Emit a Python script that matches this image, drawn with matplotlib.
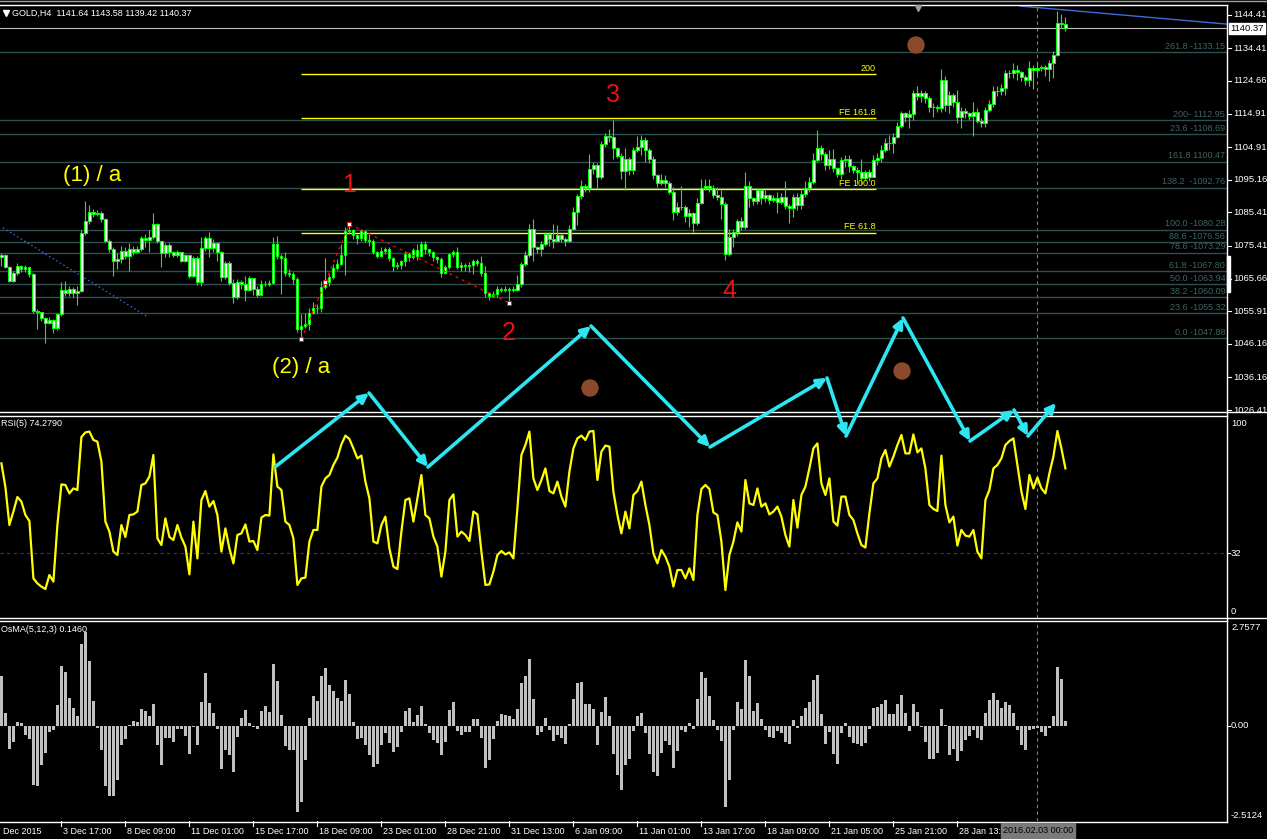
import numpy as np
import matplotlib
matplotlib.use("Agg")
import matplotlib.pyplot as plt
import matplotlib.transforms as mtransforms
from matplotlib.patches import Circle, FancyArrowPatch, Rectangle

plt.rcParams['font.family'] = ['Liberation Sans', 'DejaVu Sans']

# ---------------- data (GOLD, H4) ----------------
FIRST_OPEN = 1072.0
CLOSE = [
    1072.6, 1069.2, 1065.0, 1067.2, 1069.4, 1068.5, 1069.0, 1067.0, 1056.1, 1055.6,
    1053.8, 1052.4, 1053.3, 1050.8, 1055.0, 1062.2, 1061.4, 1062.5, 1061.2, 1062.0,
    1079.2, 1082.8, 1085.6, 1084.9, 1085.1, 1083.4, 1077.0, 1074.6, 1071.0, 1071.6,
    1074.0, 1072.4, 1074.4, 1073.6, 1074.6, 1077.7, 1077.2, 1078.2, 1081.9, 1076.9,
    1073.4, 1075.7, 1073.6, 1072.6, 1073.5, 1071.0, 1072.7, 1066.4, 1071.8, 1064.5,
    1074.7, 1077.7, 1074.7, 1076.4, 1073.7, 1066.2, 1070.2, 1064.4, 1060.2, 1064.5,
    1064.0, 1062.2, 1065.7, 1062.6, 1060.8, 1064.1, 1064.0, 1064.2, 1075.9, 1072.4,
    1071.9, 1067.4, 1067.1, 1065.4, 1050.5, 1051.5, 1052.0, 1055.3, 1056.8, 1057.0,
    1063.0, 1064.7, 1066.0, 1068.7, 1070.0, 1072.6, 1079.7, 1080.2, 1078.6, 1077.9,
    1079.7, 1077.2, 1077.0, 1073.7, 1072.5, 1074.0, 1074.4, 1071.7, 1069.5, 1069.7,
    1070.8, 1073.0, 1072.0, 1074.2, 1072.4, 1076.0, 1074.5, 1073.5, 1072.0, 1071.5,
    1067.2, 1069.0, 1073.0, 1073.5, 1069.2, 1069.8, 1069.3, 1069.6, 1071.0, 1070.3,
    1067.2, 1061.2, 1060.5, 1061.0, 1062.5, 1062.2, 1062.4, 1062.3, 1062.3, 1064.1,
    1069.9, 1072.7, 1080.4, 1075.2, 1074.6, 1076.0, 1079.0, 1077.5, 1077.0, 1078.6,
    1077.5, 1077.0, 1080.4, 1085.4, 1090.3, 1093.3, 1092.7, 1098.3, 1099.6, 1095.9,
    1105.9, 1108.3, 1108.0, 1104.6, 1102.1, 1097.9, 1101.3, 1098.0, 1104.1, 1105.0,
    1107.0, 1103.9, 1101.4, 1096.6, 1094.1, 1095.2, 1094.3, 1091.6, 1085.4, 1087.1,
    1087.0, 1084.4, 1085.2, 1082.2, 1088.2, 1092.6, 1093.3, 1092.7, 1090.6, 1090.1,
    1088.0, 1073.0, 1078.0, 1079.6, 1082.9, 1081.0, 1093.3, 1089.6, 1088.7, 1092.0,
    1089.6, 1090.5, 1089.0, 1089.8, 1088.5, 1090.0, 1087.4, 1086.8, 1090.1, 1087.5,
    1090.9, 1092.6, 1094.6, 1101.1, 1104.6, 1102.8, 1099.5, 1101.3, 1098.8, 1097.0,
    1101.0, 1101.3, 1099.3, 1098.0, 1097.5, 1095.6, 1097.5, 1096.0, 1101.0, 1101.5,
    1104.0, 1106.0, 1106.0, 1108.0, 1111.2, 1115.0, 1114.0, 1114.8, 1121.0, 1120.0,
    1121.0, 1119.6, 1117.0, 1116.8, 1116.6, 1125.0, 1117.5, 1120.5, 1118.4, 1113.8,
    1115.8, 1115.0, 1114.3, 1115.4, 1112.8, 1112.0, 1116.0, 1117.8, 1121.5, 1121.5,
    1122.6, 1127.0, 1127.0, 1128.0, 1127.3, 1125.8, 1125.0, 1128.5, 1128.0, 1128.5,
    1128.7, 1128.2, 1130.0, 1132.5, 1141.8, 1141.64, 1140.37,
]
HIGH = [
    1073.2, 1073.0, 1069.5, 1068.0, 1070.2, 1069.6, 1069.8, 1068.8, 1067.2, 1056.5,
    1055.8, 1054.3, 1054.2, 1053.5, 1055.5, 1064.7, 1065.0, 1063.5, 1063.0, 1063.5,
    1080.0, 1088.7, 1087.5, 1086.5, 1086.0, 1085.8, 1083.8, 1077.5, 1075.0, 1073.2,
    1075.3, 1075.0, 1076.2, 1075.5, 1075.3, 1078.4, 1079.0, 1080.2, 1085.3, 1082.2,
    1076.7, 1076.2, 1076.2, 1073.8, 1074.3, 1073.6, 1073.0, 1072.8, 1072.5, 1072.3,
    1078.0, 1078.5, 1079.5, 1077.5, 1076.5, 1074.0, 1071.0, 1071.0, 1065.5, 1065.5,
    1065.2, 1066.5, 1066.5, 1064.5, 1063.3, 1065.3, 1065.0, 1065.2, 1078.0, 1078.3,
    1073.0, 1073.5, 1068.5, 1067.5, 1066.2, 1055.0, 1055.5, 1056.8, 1058.6, 1058.0,
    1065.0, 1071.7, 1067.0, 1070.0, 1071.5, 1076.0, 1081.0, 1082.2, 1080.5, 1079.0,
    1080.5, 1080.0, 1079.0, 1077.5, 1074.0, 1075.0, 1075.0, 1075.0, 1072.0, 1070.5,
    1071.3, 1073.8, 1073.5, 1074.8, 1076.0, 1076.8, 1076.8, 1074.5, 1073.9, 1072.5,
    1072.0, 1069.8, 1073.3, 1074.3, 1075.0, 1070.5, 1070.3, 1070.5, 1071.6, 1071.5,
    1072.3, 1069.3, 1061.5, 1062.0, 1063.5, 1063.0, 1063.5, 1063.2, 1063.5, 1066.6,
    1070.5, 1074.0, 1081.9, 1083.3, 1075.5, 1076.8, 1079.5, 1079.6, 1082.0, 1081.5,
    1079.0, 1078.0, 1081.5, 1087.0, 1091.0, 1095.0, 1094.0, 1102.8, 1100.5, 1100.0,
    1106.8, 1109.2, 1110.2, 1113.0, 1105.0, 1103.0, 1104.5, 1101.8, 1105.0, 1108.3,
    1108.5, 1108.0, 1104.5, 1102.2, 1097.0, 1097.0, 1096.5, 1094.8, 1093.0, 1088.5,
    1093.2, 1087.7, 1086.5, 1085.5, 1089.8, 1095.5, 1095.5, 1095.5, 1093.5, 1093.0,
    1092.0, 1088.5, 1080.5, 1080.5, 1083.5, 1084.0, 1097.5, 1094.8, 1090.0, 1092.5,
    1092.5, 1092.0, 1091.0, 1090.5, 1091.5, 1091.2, 1094.8, 1088.0, 1091.0, 1091.3,
    1092.0, 1094.8, 1096.0, 1103.0, 1110.0, 1105.5, 1103.5, 1104.0, 1104.2, 1099.0,
    1101.8, 1102.5, 1102.5, 1099.5, 1099.0, 1101.3, 1098.0, 1098.5, 1102.5, 1103.0,
    1105.5, 1107.5, 1108.5, 1109.0, 1112.5, 1115.8, 1115.5, 1116.0, 1122.0, 1123.0,
    1122.0, 1121.5, 1120.0, 1118.0, 1117.5, 1128.2, 1126.0, 1121.5, 1121.0, 1122.0,
    1117.0, 1116.5, 1115.5, 1118.5, 1116.5, 1113.5, 1117.0, 1119.0, 1123.0, 1123.0,
    1123.7, 1127.8, 1128.0, 1130.0, 1129.5, 1127.5, 1126.5, 1130.5, 1129.5, 1130.0,
    1129.5, 1129.5, 1131.0, 1133.5, 1145.5, 1144.5, 1143.58,
]
LOW = [
    1069.5, 1068.8, 1064.5, 1064.5, 1066.8, 1067.5, 1067.5, 1066.0, 1055.5, 1050.5,
    1053.0, 1046.3, 1052.0, 1049.5, 1050.2, 1054.5, 1060.5, 1060.5, 1060.0, 1057.8,
    1061.5, 1078.8, 1082.0, 1084.0, 1084.2, 1082.5, 1076.5, 1073.6, 1066.3, 1068.5,
    1070.2, 1071.5, 1068.0, 1072.6, 1073.2, 1074.0, 1075.0, 1073.6, 1077.5, 1076.2,
    1069.1, 1072.0, 1072.2, 1072.0, 1072.0, 1070.5, 1070.5, 1065.8, 1066.0, 1063.8,
    1063.5, 1074.0, 1072.0, 1073.5, 1071.0, 1065.0, 1065.5, 1063.7, 1058.5, 1059.5,
    1062.5, 1059.0, 1061.8, 1060.8, 1060.2, 1063.2, 1063.5, 1063.5, 1063.9, 1071.6,
    1061.0, 1066.5, 1066.0, 1064.0, 1049.6, 1047.5, 1051.0, 1050.2, 1055.0, 1055.5,
    1055.8, 1062.5, 1063.5, 1065.5, 1068.3, 1069.8, 1066.8, 1079.0, 1077.5, 1076.0,
    1077.0, 1076.5, 1075.5, 1073.0, 1071.8, 1072.2, 1073.0, 1071.0, 1068.0, 1068.5,
    1068.5, 1069.3, 1071.0, 1071.5, 1071.3, 1073.5, 1073.0, 1072.5, 1070.8, 1070.2,
    1066.2, 1067.0, 1068.5, 1072.0, 1068.5, 1067.8, 1067.8, 1067.5, 1067.0, 1069.5,
    1066.5, 1060.0, 1059.2, 1060.2, 1060.0, 1061.5, 1061.5, 1058.3, 1061.5, 1062.0,
    1063.0, 1069.5, 1072.0, 1070.8, 1073.3, 1072.5, 1075.5, 1075.5, 1074.8, 1076.5,
    1076.5, 1075.5, 1076.5, 1080.0, 1081.6, 1089.5, 1091.5, 1091.5, 1097.0, 1092.3,
    1095.5, 1105.0, 1106.5, 1101.2, 1101.5, 1095.5, 1092.0, 1096.5, 1097.0, 1103.5,
    1102.5, 1100.5, 1100.0, 1095.5, 1093.0, 1093.5, 1093.0, 1091.0, 1083.2, 1084.5,
    1086.2, 1082.5, 1081.0, 1079.5, 1081.5, 1088.0, 1092.0, 1091.5, 1089.8, 1089.0,
    1083.5, 1071.2, 1072.5, 1075.0, 1078.5, 1080.2, 1080.5, 1087.0, 1087.5, 1088.0,
    1088.0, 1088.5, 1088.0, 1088.5, 1085.3, 1088.0, 1086.5, 1082.3, 1084.0, 1086.0,
    1086.5, 1090.0, 1091.5, 1094.0, 1100.5, 1101.0, 1098.0, 1098.5, 1097.5, 1096.0,
    1095.5, 1099.0, 1097.5, 1097.2, 1094.0, 1093.5, 1095.0, 1094.8, 1097.0, 1099.5,
    1100.5, 1103.5, 1104.0, 1103.0, 1107.5, 1110.5, 1112.5, 1110.5, 1113.0, 1119.0,
    1118.5, 1118.0, 1115.5, 1114.0, 1115.5, 1115.5, 1115.8, 1115.0, 1117.0, 1112.0,
    1110.5, 1113.5, 1113.0, 1108.3, 1112.0, 1111.0, 1111.0, 1115.5, 1117.0, 1120.0,
    1120.5, 1120.5, 1125.5, 1125.5, 1125.0, 1124.5, 1123.5, 1123.0, 1122.2, 1126.5,
    1127.5, 1126.0, 1124.5, 1125.5, 1132.0, 1140.5, 1139.42,
]
RSI = [
    76.8, 65, 46, 52.7, 60, 57.7, 51, 48, 19.3, 16.8,
    15.2, 14, 21, 17.7, 46, 66.3, 66, 61.8, 64.3, 63.5,
    90, 92.3, 92.7, 88.5, 87.7, 77.7, 47.7, 42.7, 32.7, 31,
    46, 40, 51, 51.3, 52.7, 66, 66.8, 70.2, 81, 39.3,
    36, 49.3, 40, 38.5, 46, 39.7, 35.2, 21.3, 47.7, 29.3,
    58.5, 63, 55.2, 58, 51, 32.7, 44.3, 34.3, 26.8, 41,
    41.8, 46.3, 37.7, 38, 33.5, 49.7, 51, 50.7, 81.3, 65.2,
    63.5, 47.7, 46, 39.3, 16, 19.3, 19.7, 37.7, 43.5, 43.5,
    65.2, 69.3, 71, 76, 79.7, 86.3, 90.7, 89, 84.3, 79.3,
    80.7, 67.7, 59.3, 37.7, 36.8, 46, 50.2, 34.3, 25.2, 24,
    42.7, 58.5, 59.3, 47.7, 59.3, 71, 51, 49.3, 40.2, 35.2,
    20.2, 32.7, 58.5, 61.3, 40.2, 42.7, 41, 38, 52.7, 51.3,
    32.7, 16, 16.3, 22.7, 31, 33, 31.3, 32.3, 29.3, 54.3,
    81, 86, 92.7, 69.3, 63.5,
    68.5, 74.3, 63, 61.8, 67.7, 60.2, 55.2, 72.7, 84.3, 89.3,
    90.7, 88.5, 92.7, 93, 68.5, 82.7, 85.7, 85.2, 62.7, 51,
    41.8, 52.7, 44.3, 61, 63, 67.7, 56, 46, 31.8, 26.8,
    33.5, 30.2, 25.2, 15.2, 23.5, 23.5, 19.3, 24.3, 18.5, 51,
    64, 66, 64, 52.3, 51, 37.7, 13.5, 31, 37.7, 47.3,
    42.7, 68.5, 56.8, 56, 64.3, 55.2, 56.8, 51.3, 52.7, 55.2,
    50.2, 41, 35.2, 58.5, 44.7, 61, 65.2, 74.3, 84.3, 86.8,
    66.8, 61, 69.3, 47.7, 45.7, 60.2, 60.2, 51, 48.5, 41.8,
    36, 34.7, 51.8, 66.8, 69.3, 79.3, 83.5, 75.2, 80.2, 86,
    91, 81.8, 81.8, 91.3, 82.3, 84.3, 74.3, 56, 54, 53,
    80.7, 56, 47.3, 50.2, 35.7, 43.5, 40.7, 40.2, 43.5, 32.7,
    29.3, 58.5, 63.5, 74.3, 76, 79.3, 86, 88, 89.3, 76,
    62.7, 54, 71, 64.3, 69.7, 64.3, 61.8, 71.8, 80.2, 93,
    84.3, 74.279,
]
OSMA = [
    1.46, 0.38, -0.66, -0.46, 0.12, 0.09, -0.25, -0.37, -1.74, -1.77,
    -1.13, -0.78, -0.19, -0.11, 0.61, 1.75, 1.58, 0.82, 0.53, 0.29,
    2.40, 2.7577, 1.90, 0.74, -0.05, -0.70, -1.77, -2.04, -2.04, -1.58,
    -0.56, -0.38, 0.02, 0.16, 0.12, 0.50, 0.44, 0.30, 0.64, -0.57,
    -1.14, -0.34, -0.34, -0.46, -0.08, -0.08, -0.28, -0.81, -0.02, -0.55,
    0.70, 1.55, 0.68, 0.38, -0.08, -1.25, -0.69, -0.85, -1.34, -0.31,
    0.23, 0.47, 0.09, -0.02, -0.09, 0.45, 0.58, 0.41, 1.81, 1.32,
    0.32, -0.58, -0.69, -0.69, -2.5124, -2.22, -0.99, 0.23, 0.88, 0.74,
    1.47, 1.70, 1.20, 1.03, 0.82, 0.74, 1.34, 0.94, 0.12, -0.39,
    -0.34, -0.57, -0.84, -1.19, -1.10, -0.57, -0.22, -0.49, -0.75, -0.63,
    -0.19, 0.44, 0.53, 0.12, 0.32, 0.58, 0.06, -0.22, -0.40, -0.49,
    -0.84, -0.46, 0.47, 0.70, -0.14, -0.25, -0.17, -0.17, 0.20, 0.20,
    -0.34, -1.22, -1.01, -0.37, 0.15, 0.35, 0.32, 0.29, 0.20, 0.50,
    1.26, 1.46, 1.96, 0.79, -0.25,
    -0.17, 0.23, -0.11, -0.43, -0.25, -0.34, -0.52, 0.06, 0.79, 1.26,
    1.29, 0.64, 0.64, 0.50, -0.55, 0.41, 0.85, 0.29, -0.81, -1.45,
    -1.89, -1.13, -0.98, -0.14, 0.29, 0.38, -0.22, -0.81, -1.36, -1.48,
    -0.78, -0.43, -0.57, -1.22, -0.72, -0.11, -0.17, 0.09, -0.08, 0.79,
    1.58, 1.40, 0.88, 0.18, -0.11, -0.43, -2.39, -1.57, -0.11, 0.70,
    0.50, 1.93, 1.46, 0.44, 0.67, 0.20, -0.11, -0.31, -0.34, -0.14,
    -0.22, -0.46, -0.52, 0.18, -0.05, 0.29, 0.53, 0.70, 1.34, 1.49,
    0.35, -0.52, -0.17, -0.81, -1.10, -0.22, 0.09, -0.31, -0.49, -0.52,
    -0.60, -0.49, -0.08, 0.53, 0.56, 0.64, 0.76, 0.35, 0.35, 0.64,
    0.91, 0.38, -0.14, 0.64, 0.41, -0.02, -0.46, -0.96, -0.96, -0.78,
    0.50, 0.03, -0.84, -0.66, -1.04, -0.72, -0.40, -0.28, -0.11, -0.34,
    -0.40, 0.38, 0.76, 0.96, 0.76, 0.53, 0.70, 0.61, 0.38, -0.11,
    -0.55, -0.69, -0.11, -0.08, -0.05, -0.17, -0.28, -0.05, 0.29, 1.72,
    1.37, 0.146,
]

# Fibonacci retracement / expansion levels printed on the chart
FIB_LEVELS = [1133.15, 1112.95, 1108.69, 1100.47, 1092.76, 1080.28, 1076.56,
              1073.29, 1067.80, 1063.94, 1060.09, 1055.32, 1047.88]
FIB_LABELS = ['261.8 -1133.15', '200- 1112.95', '23.6 -1108.69', '161.8 1100.47',
              '138.2  -1092.76', '100.0 -1080.28', '88.6 -1076.56', '78.6 -1073.29',
              '61.8 -1067.80', '50.0 -1063.94', '38.2 -1060.09', '23.6 -1055.32',
              '0.0 -1047.88']
FE_LEVELS = [1126.6, 1113.5, 1092.3, 1079.3]
FE_LABELS = ['200', 'FE 161.8', 'FE 100.0', 'FE 61.8']
PRICE_TICKS = [1144.41, 1134.41, 1124.66, 1114.91, 1104.91, 1095.16, 1085.41,
               1075.41, 1065.66, 1055.91, 1046.16, 1036.16, 1026.41]
BID = 1140.37
# first label is only partly visible at the left edge in the original
TIME_LABELS = ['Dec 2015', '3 Dec 17:00', '8 Dec 09:00', '11 Dec 01:00', '15 Dec 17:00',
               '18 Dec 09:00', '23 Dec 01:00', '28 Dec 21:00', '31 Dec 13:00', '6 Jan 09:00',
               '11 Jan 01:00', '13 Jan 17:00', '18 Jan 09:00', '21 Jan 05:00', '25 Jan 21:00',
               '28 Jan 13:']

# wave markers (bar index, price) of the red zigzag
WAVE_IDX = [75, 81, 87, 127]
WAVE_PRICE = [1047.6, 1064.6, 1081.9, 1058.3]

# ---------------- layout (pixels) ----------------
W, H = 1267, 839
RIGHT = 1227
GREEN = '#00FF00'
SLATE = '#2F4F4F'

fig = plt.figure(figsize=(W / 100, H / 100), dpi=100, facecolor='black')


def px_axes(top, bottom):
    ax = fig.add_axes([0, 1 - bottom / H, RIGHT / W, (bottom - top) / H])
    ax.set_facecolor('black')
    for s in ax.spines.values():
        s.set_visible(False)
    ax.set_xticks([])
    ax.set_yticks([])
    ax.set_xlim(-0.35, (RIGHT - 1.4) / 4)
    return ax


ax_p = px_axes(6, 411)
ax_r = px_axes(416, 618)
ax_o = px_axes(621, 821)
ax_p.set_ylim(1026.12, 1147.01)
ax_r.set_ylim(-0.5, 100.5)
ax_o.set_ylim(-2.786, 3.079)

n = len(CLOSE)
idx = np.arange(n)
close = np.array(CLOSE)
open_ = np.r_[FIRST_OPEN, close[:-1]]
high = np.maximum(np.array(HIGH), np.maximum(open_, close))
low = np.minimum(np.array(LOW), np.minimum(open_, close))

# ---------------- price panel ----------------
bt = mtransforms.blended_transform_factory(ax_p.transAxes, ax_p.transData)
ax_p.hlines(FIB_LEVELS, -1, 400, color=SLATE, lw=1, zorder=1)
for lv, lb in zip(FIB_LEVELS, FIB_LABELS):
    ax_p.text(0.9985, lv + 0.45, lb, transform=bt, ha='right', va='bottom',
              color='#3E6464', fontsize=6.5)
ax_p.axhline(BID, color='#C0C0C0', lw=0.8, zorder=1)

ax_p.hlines(FE_LEVELS, 74.9, 218.6, color='#FFFF00', lw=1, zorder=2)
for lv, lb in zip(FE_LEVELS, FE_LABELS):
    ax_p.text(218.6, lv + 0.45, lb, ha='right', va='bottom', color='#FFFF00', fontsize=6.5)

ax_p.vlines(idx, low, high, color=GREEN, lw=0.8, zorder=3)
body_lo = np.minimum(open_, close)
body_h = np.maximum(np.abs(close - open_), 0.15)
ax_p.bar(idx, body_h, bottom=body_lo, width=0.55, facecolor='white',
         edgecolor=GREEN, linewidth=0.75, zorder=4)

ax_p.plot(WAVE_IDX, WAVE_PRICE, color='#FF0000', lw=1, ls=(0, (2, 3)), zorder=5)
ax_p.plot(WAVE_IDX, WAVE_PRICE, ls='none', marker='s', ms=3.2, mfc='white',
          mec='#FF0000', mew=0.6, zorder=6)

# trend lines drawn on the chart
ax_p.plot([0.4, 36.6], [1080.8, 1054.2], color='#4169E1', lw=1, ls=(0, (1, 2)), zorder=2)
ax_p.plot([254.6, 306.4], [1147.0, 1141.6], color='#4169E1', lw=1, zorder=2)

for ax in (ax_p, ax_r, ax_o):
    ax.axvline(258.9, color='#808080', lw=0.8, ls=(0, (3, 3)), zorder=0.5)

# price axis labels
for p in PRICE_TICKS:
    ax_p.plot([1.0, 1.0035], [p, p], color='white', lw=0.8, transform=bt, clip_on=False)
    ax_p.text(1.0049, p, f'{p:.2f}', transform=bt, ha='left', va='center',
              color='white', fontsize=6.8, clip_on=False)
ax_p.text(1.0025, BID, f'{BID:.2f}', transform=bt, ha='left', va='center', color='black',
          fontsize=6.8, clip_on=False,
          bbox=dict(boxstyle='square,pad=0.12', fc='white', ec='white'))

# ---------------- RSI panel ----------------
ax_r.axhline(32, color='#5A1AA0', lw=0.8, ls=(0, (3, 3)))
ax_r.plot(idx, RSI, color='#FFFF00', lw=1.6, zorder=3)

# ---------------- OsMA panel ----------------
ax_o.bar(idx, OSMA, width=0.72, color='#C0C0C0', zorder=3)

# time axis
bx = mtransforms.blended_transform_factory(ax_o.transData, ax_o.transAxes)
tick_idx = np.arange(-1, n, 16)[:len(TIME_LABELS)]
for t, lb in zip(tick_idx, TIME_LABELS):
    ax_o.plot([t, t], [0, -0.025], color='white', lw=0.8, transform=bx, clip_on=False)
    x0 = t + 0.4 if t >= 0 else 0.4
    ax_o.text(x0, -0.052, lb, transform=bx, ha='left', va='center', color='white',
              fontsize=6.5, clip_on=False)

# ---------------- overlay (frames, labels, drawings) ----------------
ov = fig.add_axes([0, 0, 1, 1], zorder=10)
ov.set_xlim(0, W)
ov.set_ylim(H, 0)
ov.axis('off')
ov.patch.set_alpha(0)

ov.plot([0, W], [0.5, 0.5], color='#A0A0A0', lw=1)
for y, x1 in [(5, RIGHT), (412, W), (415.5, RIGHT), (618, W), (621, RIGHT), (821.5, RIGHT)]:
    ov.plot([0, x1], [y, y], color='white', lw=1)
ov.plot([RIGHT, RIGHT], [5, 821.5], color='white', lw=1)
ov.add_patch(Rectangle((RIGHT, 256), 3, 36, color='white'))
ov.plot(918, 8, marker='v', color='#A0A0A0', ms=5)

ov.plot(6, 13, marker='v', color='white', ms=4)
ov.text(12, 13, 'GOLD,H4  1141.64 1143.58 1139.42 1140.37', color='white',
        fontsize=6.5, va='center')
ov.text(1, 424, 'RSI(5) 74.2790', color='white', fontsize=6.5, va='center')
ov.text(1, 630, 'OsMA(5,12,3) 0.1460', color='white', fontsize=6.5, va='center')

for s, y in [('100', 423), ('32', 553), ('0', 611), ('2.7577', 627), ('0.00', 726),
             ('-2.5124', 815)]:
    ov.text(1231, y, s, color='white', fontsize=6.8, va='center')
for y in (553, 726):
    ov.plot([RIGHT, RIGHT + 3], [y, y], color='white', lw=0.8)

# crosshair time label
ov.add_patch(Rectangle((1001, 823), 74, 15, color='#7A7A7A', zorder=5))
ov.text(1038, 830.5, '2016.02.03 00:00', color='black', fontsize=6.5, ha='center',
        va='center', zorder=6)

# wave labels
ov.text(92, 176, '(1) / a', color='#FFFF00', fontsize=16, ha='center', va='center')
ov.text(301, 367, '(2) / a', color='#FFFF00', fontsize=16, ha='center', va='center')
for s, x, y in [('1', 349, 185), ('2', 509, 333), ('3', 613, 95), ('4', 729, 291)]:
    ov.text(x, y, s, color='#EE1111', fontsize=18, ha='center', va='center')

# brown dots
for x, y in [(916, 45), (590, 388), (902, 371)]:
    ov.add_patch(Circle((x, y), 8, color='#8B4A2B', zorder=4))

# cyan arrow zigzag
zig = [(275, 467), (369, 393), (428, 467), (591, 326), (710, 447), (827, 378),
       (846, 436), (903, 318), (970, 441), (1014, 410), (1028, 436), (1056, 403)]
for a, b in zip(zig[:-1], zig[1:]):
    ov.add_patch(FancyArrowPatch(a, b, arrowstyle='-|>', mutation_scale=14,
                                 color='#2EE6F2', lw=2.6, shrinkA=0, shrinkB=0, zorder=7))

fig.savefig('out.png', dpi=100, facecolor='black')
